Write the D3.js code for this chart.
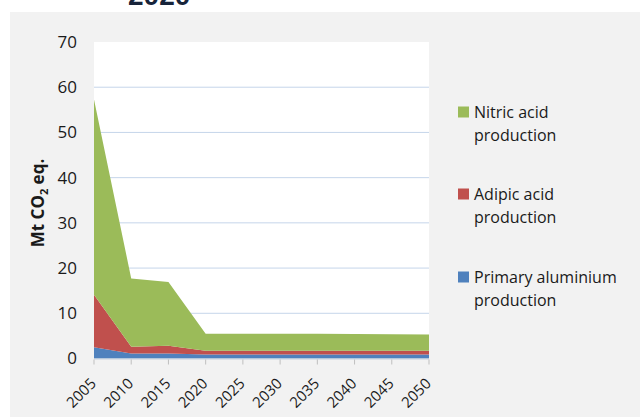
<!DOCTYPE html>
<html>
<head>
<meta charset="utf-8">
<script src="https://cdn.jsdelivr.net/npm/d3@7"></script>
<style>
  body { margin: 0; background: #fff; }
  svg { display: block; font-family: "Open Sans", sans-serif; }
</style>
</head>
<body>
<div id="chart"></div>
<script>
// data
var years = [2005, 2010, 2015, 2020, 2025, 2030, 2035, 2040, 2045, 2050];
var aluminium = [2.5, 1.1, 1.1, 0.9, 0.9, 0.9, 0.9, 0.9, 0.9, 0.9];
var adipic = [11.6, 1.5, 1.7, 0.8, 0.8, 0.8, 0.8, 0.8, 0.8, 0.8];
var nitric = [43.2, 15.1, 14.1, 3.8, 3.8, 3.8, 3.75, 3.7, 3.65, 3.6];
var yTicks = [0, 10, 20, 30, 40, 50, 60, 70];
var seriesNames = ["Primary aluminium production", "Adipic acid production", "Nitric acid production"];
var colors = ["#4f81bd", "#c0504d", "#9bbb59"];

var W = 640, H = 419;
var svg = d3.select("#chart").append("svg")
    .attr("width", W).attr("height", H);

// grey chart area
svg.append("rect")
    .attr("x", 10).attr("y", 12)
    .attr("width", W - 10).attr("height", 405)
    .attr("fill", "#f2f2f2");

// title, cut off at the top like in the source
svg.append("text")
    .attr("x", 128).attr("y", 5)
    .style("font-family", "'Liberation Sans', Arial, sans-serif")
    .style("font-weight", "bold")
    .style("font-size", "28px")
    .attr("fill", "#17243a")
    .text("2020");

var plot = {left: 94, right: 429, top: 42, bottom: 358.5};

var x = d3.scalePoint()
    .domain(years)
    .range([plot.left, plot.right]);
var y = d3.scaleLinear()
    .domain([0, 70])
    .range([plot.bottom, plot.top]);

// white plot area
svg.append("rect")
    .attr("x", plot.left).attr("y", plot.top)
    .attr("width", plot.right - plot.left).attr("height", plot.bottom - plot.top)
    .attr("fill", "#fff");

// gridlines
svg.append("g")
    .selectAll("line")
    .data(yTicks.filter(function(d){ return d > 0 && d < 70; }))
    .enter()
    .append("line")
    .attr("x1", plot.left).attr("x2", plot.right)
    .attr("y1", function(d){ return y(d); })
    .attr("y2", function(d){ return y(d); })
    .attr("stroke", "#c5d5ea")
    .attr("stroke-width", 1);

// stacked areas
var rows = years.map(function(yr, i){
    return {year: yr, s0: aluminium[i], s1: adipic[i], s2: nitric[i]};
});
var stack = d3.stack().keys(["s0", "s1", "s2"]);
var layers = stack(rows);

var area = d3.area()
    .x(function(d){ return x(d.data.year); })
    .y0(function(d){ return y(d[0]); })
    .y1(function(d){ return y(d[1]); });

svg.append("g")
    .selectAll("path")
    .data(layers)
    .enter()
    .append("path")
    .attr("d", area)
    .attr("fill", function(d, i){ return colors[i]; });

// x axis line + ticks
svg.append("line")
    .attr("x1", plot.left).attr("x2", plot.right)
    .attr("y1", plot.bottom + 0.5).attr("y2", plot.bottom + 0.5)
    .attr("stroke", "#c5d0dd");

svg.append("g")
    .selectAll("line")
    .data(years)
    .enter()
    .append("line")
    .attr("x1", function(d){ return x(d); })
    .attr("x2", function(d){ return x(d); })
    .attr("y1", plot.bottom + 1).attr("y2", plot.bottom + 6)
    .attr("stroke", "#bfbfbf");

svg.append("g")
    .selectAll("text")
    .data(years)
    .enter()
    .append("text")
    .attr("transform", function(d){ return "translate(" + (x(d) + 3) + ",384.5) rotate(-45)"; })
    .attr("text-anchor", "end")
    .style("font-size", "15px")
    .attr("fill", "#1a1a1a")
    .text(function(d){ return d; });

// y tick labels
svg.append("g")
    .selectAll("text")
    .data(yTicks)
    .enter()
    .append("text")
    .attr("x", 77)
    .attr("y", function(d){ return y(d); })
    .attr("dy", "0.35em")
    .attr("text-anchor", "end")
    .style("font-size", "17px")
    .attr("fill", "#1a1a1a")
    .text(function(d){ return d; });

// y axis title
var yt = svg.append("text")
    .attr("transform", "translate(44,203) rotate(-90)")
    .attr("text-anchor", "middle")
    .style("font-size", "17px")
    .style("font-weight", "bold")
    .attr("fill", "#1a1a1a");
yt.append("tspan").text("Mt CO");
yt.append("tspan").attr("dy", "4").style("font-size", "11px").text("2");
yt.append("tspan").attr("dy", "-4").text(" eq.");

// legend (top to bottom: nitric, adipic, aluminium)
var legendY = [112, 194, 277];
var leg = svg.append("g")
    .selectAll("g")
    .data([2, 1, 0])
    .enter()
    .append("g")
    .attr("transform", function(d, i){ return "translate(458," + legendY[i] + ")"; });

leg.append("rect")
    .attr("x", 0).attr("y", -5.5)
    .attr("width", 11).attr("height", 11)
    .attr("fill", function(d){ return colors[d]; });

leg.each(function(d){
    var words = seriesNames[d].split(" ");
    var first = words.slice(0, words.length - 1).join(" ");
    var t = d3.select(this).append("text")
        .attr("x", 16)
        .style("font-size", "16px")
        .attr("fill", "#1a1a1a");
    t.append("tspan").attr("x", 16).attr("y", 0).attr("dy", "0.35em").text(first);
    t.append("tspan").attr("x", 16).attr("y", 23).attr("dy", "0.35em").text(words[words.length - 1]);
});
</script>
</body>
</html>
